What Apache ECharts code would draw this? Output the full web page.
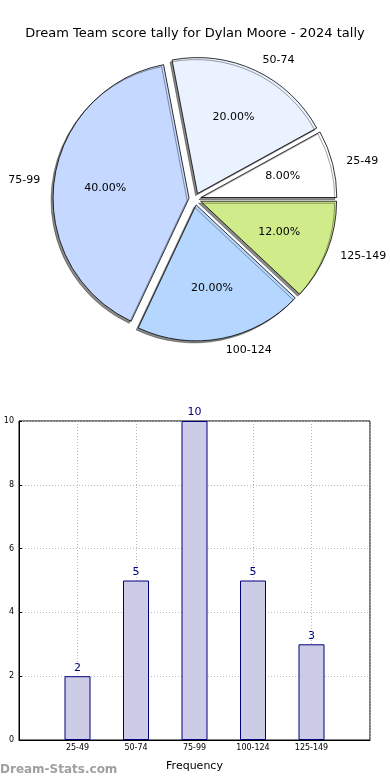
<!DOCTYPE html>
<html>
<head>
<meta charset="utf-8">
<script src="https://cdn.jsdelivr.net/npm/echarts@6/dist/echarts.min.js"></script>
<style>
html,body{margin:0;padding:0;background:#fff;}
#chart{width:390px;height:780px;}
</style>
</head>
<body>
<div id="chart"></div>
<script>
const titleText = 'Dream Team score tally for Dylan Moore - 2024 tally';
const categories = ['25-49', '50-74', '75-99', '100-124', '125-149'];
const counts = [2, 5, 10, 5, 3];
const sliceColors = ['#ffffff', '#eaf2ff', '#c5d8ff', '#b5d7ff', '#d0eb8a'];
const yTicks = [0, 2, 4, 6, 8, 10];
const xAxisName = 'Frequency';
const yAxisName = 'Number of Matches';
const watermark = 'Dream-Stats.com';

const total = counts.reduce((a, b) => a + b, 0);
const FONT = 'DejaVu Sans';
const R = 136;
const CX = 195, CY = 199;

const pieData = categories.map((c, i) => ({
  name: c, value: counts[i], selected: true,
  itemStyle: { color: sliceColors[i] }
}));
const pctData = categories.map((c, i) => ({
  name: c, value: counts[i], selected: true
}));

const xCats = [''].concat(categories, ['']);
const barVals = [null].concat(counts, [null]);

const chart = echarts.init(document.getElementById('chart'), null, { renderer: 'canvas' });
chart.setOption({
  animation: false,
  backgroundColor: '#fff',
  title: {
    text: titleText, left: 'center', top: 22,
    textStyle: { fontFamily: FONT, fontSize: 13, fontWeight: 'normal', color: '#000' }
  },
  graphic: [{
    type: 'text', left: 0, top: 764,
    style: { text: watermark, fill: '#a0a0a0', font: 'bold 12px "DejaVu Sans"' }
  }],
  grid: {
    left: 19, right: 20, top: 421, bottom: 40,
    containLabel: false, outerBoundsMode: 'none',
    show: true, borderColor: '#000', borderWidth: 1, backgroundColor: 'transparent'
  },
  xAxis: {
    type: 'category', data: xCats, boundaryGap: false,
    name: xAxisName, nameLocation: 'middle', nameGap: 21,
    nameTextStyle: { fontFamily: FONT, fontSize: 11, color: '#000' },
    axisLine: { lineStyle: { color: '#000' } },
    axisTick: { show: false },
    axisLabel: { fontFamily: FONT, fontSize: 8, color: '#000', margin: 4, interval: 0 },
    splitLine: { show: true, lineStyle: { color: '#bbb', type: [1, 2], width: 1 } }
  },
  yAxis: {
    type: 'value', min: yTicks[0], max: yTicks[yTicks.length - 1], interval: 2,
    name: yAxisName, nameLocation: 'middle', nameGap: 14, nameRotate: 90,
    nameTextStyle: { fontFamily: FONT, fontSize: 10, color: '#000' },
    axisLine: { show: true, lineStyle: { color: '#000' } },
    axisTick: { show: true, inside: true, length: 3, lineStyle: { color: '#000' } },
    axisLabel: { fontFamily: FONT, fontSize: 8, color: '#000', margin: 5 },
    splitLine: { show: true, lineStyle: { color: '#bbb', type: [1, 2], width: 1 } }
  },
  series: [
    {
      type: 'pie', center: [CX, CY], radius: [0, R],
      startAngle: 0, clockwise: false,
      selectedMode: 'multiple', selectedOffset: 6,
      silent: true, avoidLabelOverlap: false,
      data: pieData,
      itemStyle: {
        borderColor: '#000', borderWidth: 0.8,
        shadowColor: 'rgba(0,0,0,0.45)', shadowBlur: 0, shadowOffsetX: -2, shadowOffsetY: 2
      },
      label: {
        show: true, position: 'outside', fontFamily: FONT, fontSize: 11, color: '#000',
        formatter: '{b}', distanceToLabelLine: 2,
        textShadowBlur: 0, textShadowColor: 'transparent'
      },
      labelLine: { show: false, length: 12, length2: 0 },
      emphasis: { disabled: true }
    },
    {
      type: 'pie', center: [CX, CY], radius: [0, R * 1.2],
      startAngle: 0, clockwise: false,
      selectedMode: 'multiple', selectedOffset: 6,
      silent: true, z: 5,
      data: pctData,
      itemStyle: { color: 'rgba(0,0,0,0)', borderWidth: 0 },
      label: {
        show: true, position: 'inside', fontFamily: FONT, fontSize: 11, color: '#000',
        formatter: p => (p.value / total * 100).toFixed(2) + '%'
      },
      labelLine: { show: false },
      emphasis: { disabled: true }
    },
    {
      type: 'bar', data: barVals, barWidth: 26,
      itemStyle: { color: '#cccce6', borderColor: '#000080', borderWidth: 1 },
      label: { show: true, position: 'top', distance: 3, fontFamily: FONT, fontSize: 11, color: '#000080' },
      silent: true
    }
  ]
});
</script>
</body>
</html>
